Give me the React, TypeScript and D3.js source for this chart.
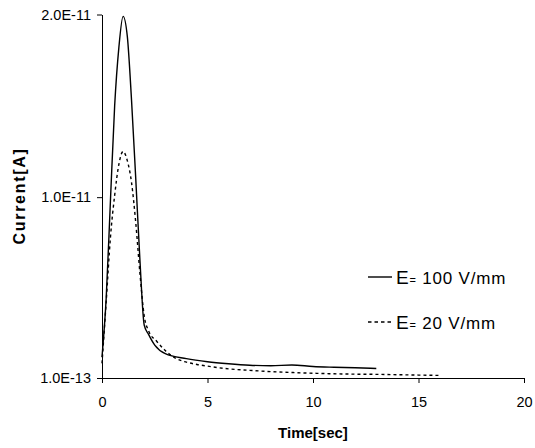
import * as d3 from 'd3';
import { useRef, useEffect } from 'react';

// time in seconds, current in units of 1e-11 A
const tHigh = [0, 0.2, 0.4, 0.6, 0.8, 1.0, 1.2, 1.4, 1.6, 1.8, 2.0, 2.2, 2.5, 3, 4, 5, 6, 7, 8, 9, 10, 11, 12, 13];
const iHigh = [0.125, 0.45, 0.98, 1.5, 1.82, 1.99, 1.88, 1.53, 1.1, 0.65, 0.3, 0.25, 0.19, 0.143, 0.116, 0.099, 0.088, 0.08, 0.077, 0.081, 0.073, 0.069, 0.066, 0.062];

const tLow = [0, 0.2, 0.4, 0.6, 0.8, 1.0, 1.2, 1.4, 1.6, 1.8, 2.0, 2.2, 2.6, 3.0, 3.5, 4.0, 4.5, 5, 6, 7, 8, 9, 10, 11, 12, 13, 14, 15, 16];
const iLow = [0.09, 0.43, 0.78, 1.01, 1.18, 1.25, 1.2, 1.08, 0.86, 0.58, 0.35, 0.27, 0.21, 0.16, 0.117, 0.097, 0.084, 0.075, 0.06, 0.052, 0.045, 0.04, 0.036, 0.033, 0.031, 0.03, 0.028, 0.026, 0.024];

const xTicks = [0, 5, 10, 15, 20];
const yTicks = [1e-13, 1e-11, 2e-11];
const yTickLabels = ['1.0E-13', '1.0E-11', '2.0E-11'];

const seriesNames = ['100 V/mm', '20 V/mm'];

const width = 535;
const height = 448;
const font = '"Liberation Sans", Arial, sans-serif';

export default function App() {
    const gx = useRef<SVGGElement>(null);
    const gy = useRef<SVGGElement>(null);

    const x = d3.scaleLinear([0, 20], [102, 524]);
    const y = d3.scaleLinear([1e-13, 2e-11], [378, 14.5]);

    useEffect(() => {
        const ax = d3.select(gx.current!);
        ax.call(d3.axisBottom(x).tickValues(xTicks).tickSize(5).tickPadding(14).tickFormat(d3.format('d')) as any);
        ax.selectAll('text').attr('font-size', 14.5).attr('font-family', font).attr('fill', '#000');
        ax.selectAll('line,path').attr('stroke', '#000');
        const ay = d3.select(gy.current!);
        ay.call(d3.axisLeft(y).tickValues(yTicks).tickSize(5).tickPadding(6).tickSizeOuter(0)
            .tickFormat((_, i) => yTickLabels[i]) as any);
        ay.selectAll('text').attr('font-size', 14.5).attr('font-family', font).attr('fill', '#000');
        ay.selectAll('line,path').attr('stroke', '#000');
    }, []);

    const line = d3.line<[number, number]>()
        .x(d => x(d[0]))
        .y(d => y(d[1] * 1e-11))
        .curve(d3.curveMonotoneX);

    const highPts = tHigh.map((t, i) => [t, iHigh[i]] as [number, number]);
    const lowPts = tLow.map((t, i) => [t, iLow[i]] as [number, number]);

    const legend = [
        { name: seriesNames[0], dash: null, y: 277 },
        { name: seriesNames[1], dash: '3.5,3', y: 322 },
    ];

    return (
        <svg width={width} height={height} style={{ position: 'absolute', left: 0, top: 0, background: '#fff' }}>
            <g ref={gx} transform={`translate(0,${378})`} />
            <g ref={gy} transform={`translate(${102},0)`} />
            <path d={line(highPts)!} fill="none" stroke="#000" strokeWidth={1.4} />
            <path d={line(lowPts)!} fill="none" stroke="#000" strokeWidth={1.4} strokeDasharray="3,3" />
            {legend.map(l => (
                <g key={l.name}>
                    <line x1={368} x2={392} y1={l.y} y2={l.y} stroke="#000" strokeWidth={1.4}
                        strokeDasharray={l.dash ?? undefined} />
                    <text x={396} y={l.y + 7} fontFamily={font} fontSize={17} fill="#000" letterSpacing={0.8}>
                        <tspan fontSize={19}>E</tspan>
                        <tspan fontSize={11}>=</tspan>
                        <tspan> {l.name}</tspan>
                    </text>
                </g>
            ))}
            <text x={313} y={438} textAnchor="middle" fontFamily={font} fontWeight="bold" fontSize={15}>Time[sec]</text>
            <text transform="translate(25,196) rotate(-90)" textAnchor="middle" fontFamily={font}
                fontWeight="bold" fontSize={16} letterSpacing={1.7}>Current[A]</text>
        </svg>
    );
}
